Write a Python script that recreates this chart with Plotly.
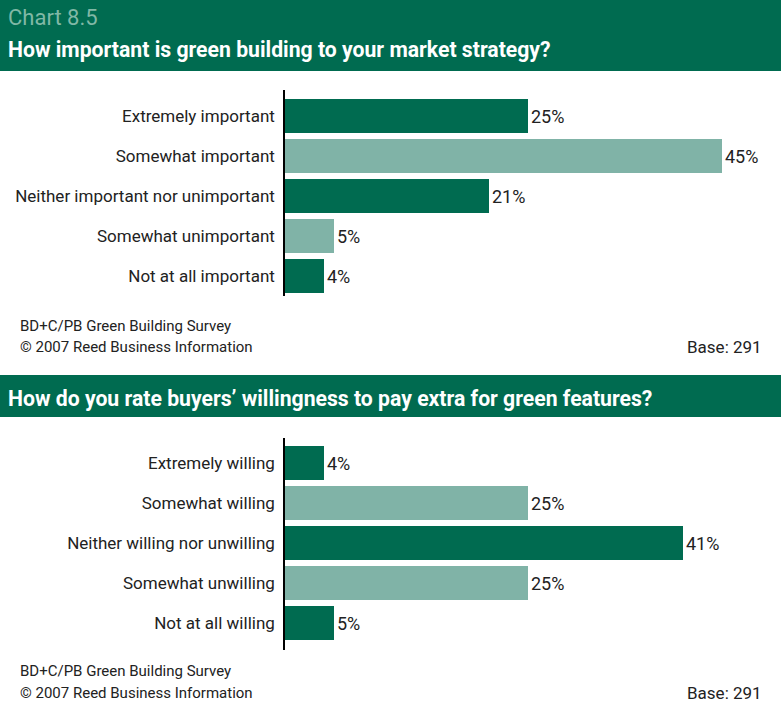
import plotly.graph_objects as go

# data
importance_labels = ["Extremely important", "Somewhat important",
                     "Neither important nor unimportant", "Somewhat unimportant",
                     "Not at all important"]
importance_values = [25, 45, 21, 5, 4]

willing_labels = ["Extremely willing", "Somewhat willing",
                  "Neither willing nor unwilling", "Somewhat unwilling",
                  "Not at all willing"]
willing_values = [4, 25, 41, 25, 5]

chart_no = "Chart 8.5"
title_top = "How important is green building to your market strategy?"
title_bottom = "How do you rate buyers\u2019 willingness to pay extra for green features?"
source_lines = ["BD+C/PB Green Building Survey", "\u00a9 2007 Reed Business Information"]
base_text = "Base: 291"

DARK = "#006B50"
LIGHT = "#80B3A7"
FONT = "Roboto, sans-serif"
TXT = "#222222"
W, H = 781, 715


def py(pix):
    # pixel from top -> paper y
    return 1 - pix / H


def px(pix):
    return pix / W


bar_colors = [DARK, LIGHT, DARK, LIGHT, DARK]

fig = go.Figure()

fig.add_trace(go.Bar(
    x=importance_values, y=list(range(5)), orientation="h",
    marker=dict(color=bar_colors, line_width=0), width=0.85,
    text=[f"{v}%" for v in importance_values], textposition="outside",
    textfont=dict(family=FONT, size=18, color=TXT), cliponaxis=False,
    xaxis="x", yaxis="y", hoverinfo="skip"))

fig.add_trace(go.Bar(
    x=willing_values, y=list(range(5)), orientation="h",
    marker=dict(color=bar_colors, line_width=0), width=0.85,
    text=[f"{v}%" for v in willing_values], textposition="outside",
    textfont=dict(family=FONT, size=18, color=TXT), cliponaxis=False,
    xaxis="x2", yaxis="y2", hoverinfo="skip"))

xmax = (W - 285) / 9.7
xcommon = dict(range=[0, xmax], showgrid=False, zeroline=False,
               showticklabels=False, ticks="", showline=False, fixedrange=True)
ycommon = dict(showgrid=False, zeroline=False, ticks="", showline=True,
               linecolor="#000000", linewidth=1.5, tickmode="array",
               tickvals=list(range(5)), ticklabelstandoff=5,
               tickfont=dict(family=FONT, size=17, color=TXT))

fig.update_layout(
    width=W, height=H,
    margin=dict(l=0, r=0, t=0, b=0),
    paper_bgcolor="white", plot_bgcolor="white",
    showlegend=False, bargap=0,
    xaxis=dict(domain=[px(285), 1], anchor="y", **xcommon),
    yaxis=dict(domain=[py(296), py(90)], anchor="x",
               range=[4.5, -0.65], ticktext=importance_labels, **ycommon),
    xaxis2=dict(domain=[px(285), 1], anchor="y2", **xcommon),
    yaxis2=dict(domain=[py(650), py(438)], anchor="x2",
                range=[4.675, -0.625], ticktext=willing_labels, **ycommon),
)

shapes = [
    dict(type="rect", xref="paper", yref="paper", x0=0, x1=1,
         y0=py(71), y1=1, fillcolor=DARK, line_width=0, layer="below"),
    dict(type="rect", xref="paper", yref="paper", x0=0, x1=1,
         y0=py(417), y1=py(375), fillcolor=DARK, line_width=0, layer="below"),
]
fig.update_layout(shapes=shapes)

annotations = [
    dict(text=chart_no, x=px(7), y=py(18), font=dict(family=FONT, size=22, color="#80B8A6")),
    dict(text="<b>" + title_top + "</b>", x=px(7), y=py(50),
         font=dict(family=FONT, size=21.2, color="white")),
    dict(text="<b>" + title_bottom + "</b>", x=px(7), y=py(398),
         font=dict(family=FONT, size=21.2, color="white")),
    dict(text=source_lines[0], x=px(19), y=py(326), font=dict(family=FONT, size=15, color=TXT)),
    dict(text=source_lines[1], x=px(19), y=py(347), font=dict(family=FONT, size=15, color=TXT)),
    dict(text=source_lines[0], x=px(19), y=py(671), font=dict(family=FONT, size=15, color=TXT)),
    dict(text=source_lines[1], x=px(19), y=py(693), font=dict(family=FONT, size=15, color=TXT)),
]
for a in annotations:
    a.update(xref="paper", yref="paper", xanchor="left", yanchor="middle",
             showarrow=False, borderpad=0)
for yy in (347, 693):
    annotations.append(dict(text=base_text, x=px(763), y=py(yy), xref="paper", yref="paper",
                            xanchor="right", yanchor="middle", showarrow=False, borderpad=0,
                            font=dict(family=FONT, size=17, color=TXT)))
fig.update_layout(annotations=annotations)

# page default body margin would shift the chart
fig.write_html("out.html", config={"displayModeBar": False},
               post_script="document.body.style.margin='0';"
               "document.body.style.overflow='hidden';")
